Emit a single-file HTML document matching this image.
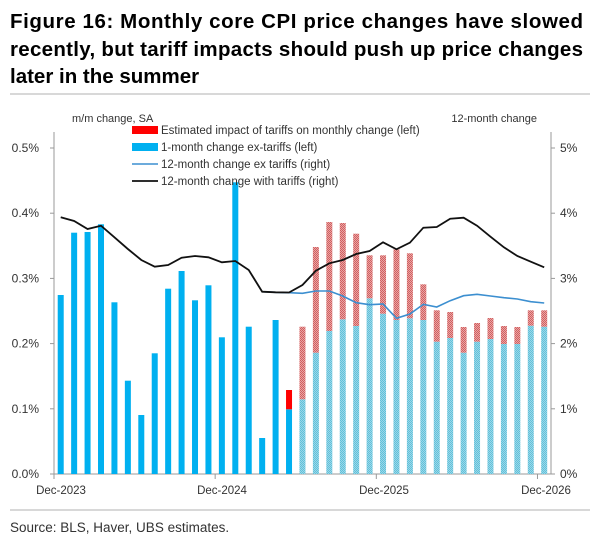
<!DOCTYPE html>
<html><head><meta charset="utf-8"><style>
html,body{margin:0;padding:0;background:#fff;}
svg{display:block;font-family:"Liberation Sans",sans-serif;}
</style></head><body>
<svg id="s" width="602" height="545" xmlns="http://www.w3.org/2000/svg">
<defs>
<pattern id="pb" width="2" height="2" patternUnits="userSpaceOnUse"><rect width="2" height="2" fill="#9ad8e8"/><rect width="1" height="1" fill="#62c0da"/><rect x="1" y="1" width="1" height="1" fill="#62c0da"/></pattern>
<pattern id="pr" width="2" height="2" patternUnits="userSpaceOnUse"><rect width="2" height="2" fill="#eaa4a4"/><rect width="1" height="1" fill="#d06060"/><rect x="1" y="1" width="1" height="1" fill="#d06060"/></pattern>
</defs>
<g font-weight="bold" font-size="20.5" fill="#000">
<text x="10" y="28"><tspan textLength="573" lengthAdjust="spacing">Figure 16: Monthly core CPI price changes have slowed</tspan></text>
<text x="10" y="56" textLength="573" lengthAdjust="spacing">recently, but tariff impacts should push up price changes</text>
<text x="10" y="83">later in the summer</text>
</g>
<line x1="10" y1="94" x2="590" y2="94" stroke="#ccc" stroke-width="1.5"/>
<line x1="10" y1="510" x2="590" y2="510" stroke="#ccc" stroke-width="1.5"/>
<text x="10" y="532" font-size="13.5" fill="#333">Source: BLS, Haver, UBS estimates.</text>
<g font-size="11" fill="#333">
<text x="72" y="122">m/m change, SA</text>
<text x="537" y="122" text-anchor="end">12-month change</text>
</g>
<g id="g"></g>
</svg>
<script>
const g=document.getElementById('g');let h='';
const L=54,R=551,B=474,T=148,w=13.43;
h+=`<line x1="${L}" y1="${T-16}" x2="${L}" y2="${B}" stroke="#999"/><line x1="${R}" y1="${T-16}" x2="${R}" y2="${B}" stroke="#999"/><line x1="${L}" y1="${B}" x2="${R}" y2="${B}" stroke="#999"/>`;
for(let i=0;i<=5;i++){const y=B-65.2*i;
h+=`<line x1="${L-4}" y1="${y}" x2="${L}" y2="${y}" stroke="#999"/><line x1="${R}" y1="${y}" x2="${R+4}" y2="${y}" stroke="#999"/>`;
h+=`<text x="39" y="${y+4}" font-size="12" fill="#333" text-anchor="end">${(i/10).toFixed(1)}%</text><text x="560" y="${y+4}" font-size="12" fill="#333">${i}%</text>`;}
[0,12,24,36].forEach((k,j)=>{const x=L+w*k;h+=`<line x1="${x}" y1="${B}" x2="${x}" y2="${B+5}" stroke="#999"/>`;
h+=`<text x="${[61,222,384,546][j]}" y="494" font-size="11.5" fill="#333" text-anchor="middle">Dec-${2023+j}</text>`;});
const blue=[295,232.7,232,224.3,302.3,380.7,415,353.3,288.7,271,300.3,285.3,337.3,182.3,326.7,438,320,409.3,399.3,352.7,331,319.3,326,298.3,313.7,320,318.3,320,341.7,338,352.7,341.7,339,344,344,325.7,326.7];
const red={17:390,18:326.7,19:247,20:222,21:223,22:233.7,23:255.3,24:255.3,25:249.3,26:253.3,27:284.3,28:310.3,29:312,30:327,31:323,32:318,33:326,34:327,35:310.3,36:310.3};
blue.forEach((y,i)=>{const x=L+w*(i+.5)-3;const pat=i>=18;
h+=`<rect x="${x}" y="${y}" width="6" height="${B-y}" fill="${pat?'url(#pb)':'#00b0f0'}"/>`;
if(red[i]!==undefined)h+=`<rect x="${x}" y="${red[i]}" width="6" height="${y-red[i]}" fill="${pat?'url(#pr)':'#ff0000'}"/>`;});
const bk=[217.3,221,229,225.7,237.3,249,260,266.7,265,257.7,256,257.3,262.3,261,270,291.7,292.3,292.5,285,270.7,263.3,260,254,251,242.3,249.3,242.7,227.7,227,218.7,217.7,225.7,236.7,247.3,256,261.7,267.3];
const bl={15:291.7,16:292.3,17:292.7,18:293.3,19:291,20:291,21:296,22:302.7,23:304.7,24:304,25:318.3,26:314,27:304.3,28:307,29:300.7,30:295.7,31:294.3,32:296,33:297.7,34:299,35:301.7,36:303};
let pb=Object.keys(bl).map(i=>`${L+w*(+i+.5)},${bl[i]}`).join(' ');
h+=`<polyline points="${pb}" fill="none" stroke="#3c8fd0" stroke-width="1.6"/>`;
h+=`<polyline points="${bk.map((y,i)=>`${L+w*(i+.5)},${y}`).join(' ')}" fill="none" stroke="#111" stroke-width="1.8"/>`;
const ly=[130,147,164,181];
h+=`<rect x="132" y="${ly[0]-4}" width="26" height="8" fill="#ff0000"/><rect x="132" y="${ly[1]-4}" width="26" height="8" fill="#00b0f0"/>`;
h+=`<line x1="132" y1="${ly[2]}" x2="158" y2="${ly[2]}" stroke="#3c8fd0" stroke-width="1.6"/><line x1="132" y1="${ly[3]}" x2="158" y2="${ly[3]}" stroke="#111" stroke-width="1.8"/>`;
['Estimated impact of tariffs on monthly change (left)','1-month change ex-tariffs (left)','12-month change ex tariffs (right)','12-month change with tariffs (right)'].forEach((t,i)=>h+=`<text x="161" y="${ly[i]+4}" font-size="11.5" fill="#333">${t}</text>`);
g.innerHTML=h;
</script>
</body></html>
